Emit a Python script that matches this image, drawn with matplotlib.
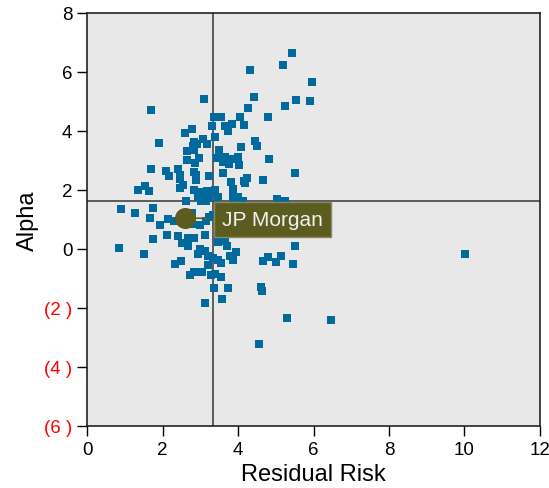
import matplotlib.pyplot as plt

plt.rcParams["font.family"] = ["Liberation Sans", "DejaVu Sans"]

# residual risk (x) and alpha (y) of the peer banks
risk = [5.44, 5.20, 4.33, 5.97, 3.11, 4.43, 5.54, 5.92, 5.25, 4.27,
        1.70, 3.37, 3.48, 3.56, 4.06, 4.80, 3.32, 3.66, 3.74, 3.85,
        4.17, 2.79, 2.60, 3.40, 3.08, 1.92, 2.84, 2.92, 2.82, 2.84,
        3.19, 2.66, 4.46, 4.51, 4.09, 3.50, 2.97, 2.66, 2.87, 3.45,
        3.66, 3.61, 3.77, 3.85, 4.01, 4.03, 4.83, 1.70, 2.10, 2.18,
        2.42, 2.47, 2.47, 2.55, 2.47, 2.84, 2.90, 2.90, 3.24, 3.61,
        5.52, 3.82, 3.88, 3.88, 4.01, 4.17, 4.25, 4.19, 4.67, 1.36,
        1.54, 1.65, 2.84, 2.95, 3.05, 3.17, 3.27, 3.40, 2.95, 3.05,
        3.24, 3.03, 3.16, 3.48, 2.63, 5.04, 5.25, 3.88, 4.14, 0.91,
        1.76, 1.28, 1.68, 2.15, 2.31, 1.94, 2.79, 2.79, 3.00, 3.16,
        3.24, 1.76, 2.13, 2.42, 2.52, 2.68, 2.68, 2.84, 3.13, 0.86,
        1.52, 2.34, 2.50, 2.95, 3.00, 3.13, 3.21, 3.35, 3.48, 3.56,
        3.48, 3.66, 3.70, 3.96, 3.80, 3.88, 5.54, 5.52, 5.15, 5.01,
        4.80, 4.67, 5.46, 2.74, 2.84, 3.05, 3.21, 3.29, 3.40, 3.56,
        3.37, 3.74, 3.58, 3.13, 4.62, 4.64, 5.31, 6.47, 4.56, 10.02,
        3.77, 4.01, 3.48, 3.35]
alpha = [6.63, 6.23, 6.06, 5.65, 5.07, 5.14, 5.04, 5.01, 4.84, 4.77,
         4.70, 4.46, 4.46, 4.46, 4.46, 4.46, 4.16, 4.16, 4.00, 4.23,
         4.19, 4.06, 3.92, 3.79, 3.73, 3.58, 3.62, 3.55, 3.48, 3.35,
         3.55, 3.31, 3.65, 3.48, 3.45, 3.35, 3.07, 3.01, 2.91, 3.07,
         3.13, 2.94, 2.87, 3.04, 3.11, 2.84, 3.04, 2.70, 2.63, 2.46,
         2.70, 2.52, 2.36, 2.16, 2.06, 2.60, 2.50, 2.33, 2.46, 2.57,
         2.57, 2.26, 2.02, 1.85, 1.75, 2.29, 2.40, 2.23, 2.33, 1.99,
         2.15, 1.96, 1.99, 1.85, 1.92, 1.96, 1.96, 1.99, 1.75, 1.65,
         1.72, 1.62, 1.62, 1.75, 1.62, 1.68, 1.62, 1.58, 1.62, 1.34,
         1.38, 1.21, 1.04, 1.01, 0.94, 0.83, 1.21, 0.84, 0.80, 0.94,
         1.07, 0.33, 0.46, 0.43, 0.19, 0.09, 0.36, 0.36, 0.46, 0.02,
         -0.18, -0.52, -0.42, -0.18, -0.01, -0.08, -0.25, -0.32, -0.38, -0.48,
         0.23, 0.26, 0.09, -0.11, -0.25, -0.38, 0.52, 0.09, -0.25, -0.45,
         -0.28, -0.42, -0.52, -0.89, -0.79, -0.79, -0.55, -0.89, -0.86, -0.96,
         -1.33, -1.33, -1.71, -1.84, -1.30, -1.43, -2.35, -2.42, -3.23, -0.18,
         0.50, 0.50, 1.47, 1.14]

jpm_risk, jpm_alpha = 2.60, 1.05
avg_risk, avg_alpha = 3.34, 1.63

xticks = [0, 2, 4, 6, 8, 10, 12]
yticks = [-6, -4, -2, 0, 2, 4, 6, 8]
ylabels = ["(6 )", "(4 )", "(2 )", "0", "2", "4", "6", "8"]

fig = plt.figure(figsize=(5.49, 4.89), dpi=100)
ax = fig.add_axes([0.1585, 0.1268, 0.8251, 0.8446])
ax.set_facecolor("#E8E8E8")

ax.scatter(risk, alpha, marker="s", s=26, color="#006A9E", linewidths=0, zorder=3)

ax.axvline(avg_risk, color="#444444", lw=1.2, zorder=2)
ax.axhline(avg_alpha, color="#444444", lw=1.2, zorder=2)

olive = "#5C5B20"
ax.scatter([jpm_risk], [jpm_alpha], s=200, color=olive, zorder=5)
ax.annotate("JP Morgan", xy=(jpm_risk, jpm_alpha), xytext=(3.58, 1.0),
            color="#F2F2F2", fontsize=15, va="center", ha="left", zorder=6,
            bbox=dict(boxstyle="square,pad=0.4", fc=olive, ec="#8A8A60", lw=1),
            arrowprops=dict(arrowstyle="-", color=olive, lw=1.2))

ax.set_xlim(0, 12)
ax.set_ylim(-6, 8)
ax.set_xticks(xticks)
ax.set_yticks(yticks, ylabels)
for lab, v in zip(ax.get_yticklabels(), yticks):
    lab.set_color("red" if v < 0 else "black")
ax.tick_params(labelsize=13.5, length=7, width=1)
for sp in ax.spines.values():
    sp.set_color("#222222")
    sp.set_linewidth(1.2)

ax.set_xlabel("Residual Risk", fontsize=17)
ax.set_ylabel("Alpha", fontsize=17)

fig.savefig("out.png", dpi=100)
